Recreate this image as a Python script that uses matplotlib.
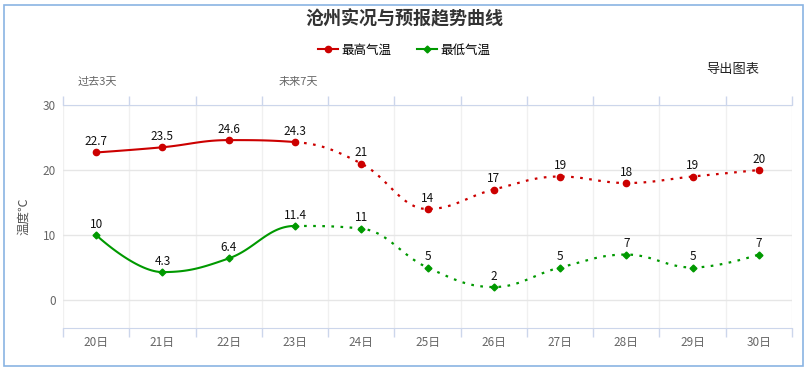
import numpy as np
import matplotlib
matplotlib.use('Agg')
import matplotlib.pyplot as plt
from matplotlib.lines import Line2D
from matplotlib.patches import Rectangle

plt.rcParams['font.family'] = ['Noto Sans CJK SC', 'DejaVu Sans']

# data
days = ['20日', '21日', '22日', '23日', '24日', '25日', '26日', '27日', '28日', '29日', '30日']
t_max = [22.7, 23.5, 24.6, 24.3, 21, 14, 17, 19, 18, 19, 20]
t_min = [10, 4.3, 6.4, 11.4, 11, 5, 2, 5, 7, 5, 7]
n_past = 4  # 20-23 are observed, rest is forecast
y_ticks = [0, 10, 20, 30]

RED = '#cc0000'
GREEN = '#009900'
W, H = 807, 370


def spline_segments(xs, ys, smoothing=1.5):
    # highcharts-style spline: one cubic bezier per interval
    n = len(xs)
    lc = [(xs[i], ys[i]) for i in range(n)]
    rc = [(xs[i], ys[i]) for i in range(n)]
    denom = smoothing + 1
    for i in range(1, n - 1):
        px, py = xs[i], ys[i]
        lx, ly = xs[i - 1], ys[i - 1]
        nx, ny = xs[i + 1], ys[i + 1]
        lcx = (smoothing * px + lx) / denom
        lcy = (smoothing * py + ly) / denom
        rcx = (smoothing * px + nx) / denom
        rcy = (smoothing * py + ny) / denom
        corr = (rcy - lcy) * (rcx - px) / (rcx - lcx) + py - rcy
        lcy += corr
        rcy += corr
        if lcy > ly and lcy > py:
            lcy = max(ly, py); rcy = 2 * py - lcy
        elif lcy < ly and lcy < py:
            lcy = min(ly, py); rcy = 2 * py - lcy
        if rcy > ny and rcy > py:
            rcy = max(ny, py); lcy = 2 * py - rcy
        elif rcy < ny and rcy < py:
            rcy = min(ny, py); lcy = 2 * py - rcy
        lc[i] = (lcx, lcy)
        rc[i] = (rcx, rcy)
    t = np.linspace(0, 1, 40)[:, None]
    segs = []
    for i in range(n - 1):
        p0 = np.array([xs[i], ys[i]])
        p1 = np.array(rc[i])
        p2 = np.array(lc[i + 1])
        p3 = np.array([xs[i + 1], ys[i + 1]])
        pts = (1 - t) ** 3 * p0 + 3 * (1 - t) ** 2 * t * p1 + 3 * (1 - t) * t ** 2 * p2 + t ** 3 * p3
        segs.append(pts)
    return segs


fig = plt.figure(figsize=(W / 100, H / 100), dpi=100)
ax = fig.add_axes([63 / W, 1 - 328 / H, (792 - 63) / W, (328 - 105) / H])

x = np.arange(len(days))
for vals, col, mk, ms in [(t_max, RED, 'o', 4.5), (t_min, GREEN, 'D', 3.5)]:
    segs = spline_segments(list(x), vals)
    past = np.vstack(segs[:n_past - 1])
    fut = np.vstack(segs[n_past - 1:])
    ax.plot(past[:, 0], past[:, 1], color=col, lw=1.5, solid_capstyle='round', zorder=3)
    ax.plot(fut[:, 0], fut[:, 1], color=col, lw=1.6, ls=(0, (1.2, 2.9)), dash_capstyle='butt', zorder=3)
    ax.plot(x, vals, ls='none', marker=mk, ms=ms, color=col, zorder=4)
    for xi, v in zip(x, vals):
        ax.annotate(f'{v:g}', (xi, v), xytext=(0, 3), textcoords='offset points',
                    ha='center', va='bottom', fontsize=8.5, color='#111111', zorder=5)

ax.set_xlim(-0.5, len(days) - 0.5)
ax.set_ylim(-4.3, 30)

# category boundaries as major ticks, labels on minor ticks
ax.set_xticks(np.arange(-0.5, len(days), 1))
ax.set_xticklabels([])
ax.set_xticks(x, minor=True)
ax.set_xticklabels(days, minor=True)
ax.tick_params(axis='x', which='major', top=True, bottom=True, direction='out',
               length=6.5, color='#ccd6eb', width=1)
ax.tick_params(axis='x', which='minor', length=0, pad=6, labelsize=8.5, labelcolor='#666666')

ax.set_yticks(y_ticks)
ax.tick_params(axis='y', length=0, pad=5, labelsize=8.5, labelcolor='#666666')

ax.grid(axis='x', which='major', color='#f0f0f0', lw=1)
ax.grid(axis='y', color='#e6e6e6', lw=1)
ax.set_axisbelow(True)

for s in ['left', 'right']:
    ax.spines[s].set_visible(False)
for s in ['top', 'bottom']:
    ax.spines[s].set_color('#ccd6eb')

ax.set_ylabel('温度℃', fontsize=9, color='#555555')
ax.yaxis.set_label_coords((30 - 63) / (792 - 63), 0.5)

# titles, notes
fig.text(404 / W, 1 - 19 / H, '沧州实况与预报趋势曲线', ha='center', va='center',
         fontsize=13, fontweight='bold', color='#333333')
fig.text(97 / W, 1 - 82 / H, '过去3天', ha='center', va='center', fontsize=8, color='#666666')
fig.text(298 / W, 1 - 82 / H, '未来7天', ha='center', va='center', fontsize=8, color='#666666')
fig.text(733 / W, 1 - 69 / H, '导出图表', ha='center', va='center', fontsize=9.5, color='#222222')

handles = [Line2D([], [], color=RED, lw=1.5, marker='o', ms=4.5),
           Line2D([], [], color=GREEN, lw=1.5, marker='D', ms=3.5)]
fig.legend(handles, ['最高气温', '最低气温'], loc='center', bbox_to_anchor=(404 / W, 1 - 50 / H),
           ncol=2, frameon=False, fontsize=9, handlelength=1.6, handletextpad=0.3,
           columnspacing=2.0)

fig.patches.append(Rectangle((4 / W, 4 / H), (803 - 4) / W, (365 - 4) / H, transform=fig.transFigure,
                             fill=False, edgecolor='#8ab4e3', lw=1.2))

fig.savefig('out.png', dpi=100)
